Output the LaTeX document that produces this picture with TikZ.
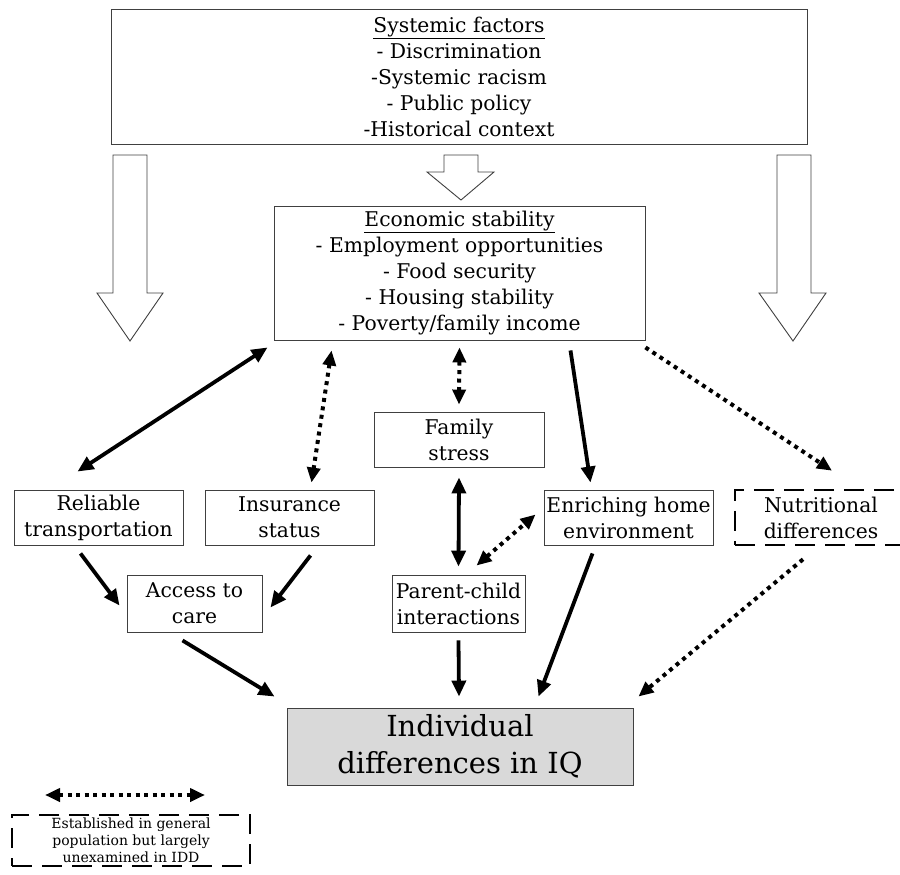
\documentclass[tikz,border=0pt]{standalone}
\usepackage{fontspec}
\setmainfont{DejaVu Serif}
\usetikzlibrary{arrows.meta,calc}
\begin{document}
\begin{tikzpicture}[x=1pt,y=-1pt,
  box/.style={draw=black!75,line width=0.9pt,rectangle,inner sep=0pt,align=center,
    font=\fontsize{20.3}{26}\selectfont},
  dbox/.style={box,draw=black,line width=2.6pt,dash pattern=on 20pt off 10pt},
  solidarr/.style={line width=3.8pt,-{Triangle[length=16pt,width=14pt]}},
  soliddbl/.style={line width=3.8pt,{Triangle[length=16pt,width=14pt]}-{Triangle[length=16pt,width=14pt]}},
  dotarr/.style={line width=4pt,dash pattern=on 4pt off 4.5pt,-{Triangle[length=15pt,width=13pt]}},
  dotdbl/.style={line width=4pt,dash pattern=on 4pt off 4.5pt,{Triangle[length=15pt,width=13pt]}-{Triangle[length=15pt,width=13pt]}},
  blockarr/.style={draw=black!75,line width=0.9pt,fill=white}
]
\useasboundingbox (0,0) rectangle (900,875);

% nodes
\node[box,minimum width=696pt,minimum height=135pt] (sys) at (459,76.5)
  {\underline{Systemic factors}\\- Discrimination\\-Systemic racism\\- Public policy\\-Historical context};
\node[box,minimum width=371pt,minimum height=134pt] (econ) at (459.5,273)
  {\underline{Economic stability}\\- Employment opportunities\\- Food security\\- Housing stability\\- Poverty/family income};
\node[box,minimum width=170pt,minimum height=55pt] (fam) at (459,439.5) {Family\\stress};
\node[box,minimum width=169pt,minimum height=55pt] (rel) at (98.5,517.5) {Reliable\\transportation};
\node[box,minimum width=169pt,minimum height=55pt] (ins) at (289.5,517.5) {Insurance\\status};
\node[box,minimum width=169pt,minimum height=55pt] (enr) at (628.5,517.5) {Enriching home\\environment};
\begin{scope}
\clip (0,0) rectangle (900,875);
\node[dbox,minimum width=172pt,minimum height=55pt] (nut) at (821,517.5) {Nutritional\\differences};
\end{scope}
\node[box,minimum width=135pt,minimum height=57pt] (acc) at (194.5,603.5) {Access to\\care};
\node[box,minimum width=133pt,minimum height=57pt] (pc) at (458.5,603.5) {Parent-child\\interactions};
\node[box,fill=black!15,minimum width=346pt,minimum height=77pt,font=\fontsize{29}{37}\selectfont] (iq) at (460,746.5) {Individual\\differences in IQ};

% block arrows
\draw[blockarr] (113,155) -- (147,155) -- (147,293) -- (163,293) -- (130,341) -- (97,293) -- (113,293) -- cycle;
\draw[blockarr] (444,155) -- (478,155) -- (478,172) -- (494,172) -- (461,200) -- (427,172) -- (444,172) -- cycle;
\draw[blockarr] (777,155) -- (811,155) -- (811,293) -- (826,293) -- (793,341) -- (759,293) -- (777,293) -- cycle;

% connectors
\draw[soliddbl] ($(econ.south west)+(-6,7)$) -- ($(rel.north)+(-21,-18)$);
\draw[dotdbl] ($(econ.south west)+(58,10)$) -- ($(ins.north)+(22,-7)$);
\draw[dotdbl] ($(econ.south)+(0,7)$) -- ($(fam.north)+(0,-7)$);
\draw[solidarr] ($(econ.south)+(111,10)$) -- ($(enr.north)+(-38,-7)$);
\draw[dotarr] ($(econ.south east)+(0,7)$) -- ($(nut.north)+(11,-18)$);
\draw[soliddbl] ($(fam.south)+(0,10)$) -- ($(pc.north)+(0,-8)$);
\draw[dotdbl] ($(pc.north)+(18,-9)$) -- ($(enr.west)+(-8,-3)$);
\draw[solidarr] ($(rel.south)+(-18,8)$) -- ($(acc.west)+(-7,2)$);
\draw[solidarr] ($(ins.south)+(21,10)$) -- ($(acc.east)+(8,4)$);
\draw[solidarr] ($(acc.south)+(-12,8)$) -- ($(iq.north west)+(-12,-11)$);
\draw[solidarr] ($(pc.south)+(0,8)$) -- ($(iq.north)+(-1,-11)$);
\draw[solidarr] ($(enr.south)+(-36,8)$) -- ($(iq.north east)+(-95,-11)$);
\draw[dotarr] ($(nut.south)+(-18,13)$) -- ($(iq.north east)+(5,-11)$);

% legend
\node[dbox,minimum width=238pt,minimum height=51pt,font=\fontsize{14}{17}\selectfont] (leg) at (131,840.5)
  {Established in general\\population but largely\\unexamined in IDD};
\coordinate (la) at (45,795);
\coordinate (lb) at (205,795);
\draw[dotdbl] (la) -- (lb);
\end{tikzpicture}
\end{document}
